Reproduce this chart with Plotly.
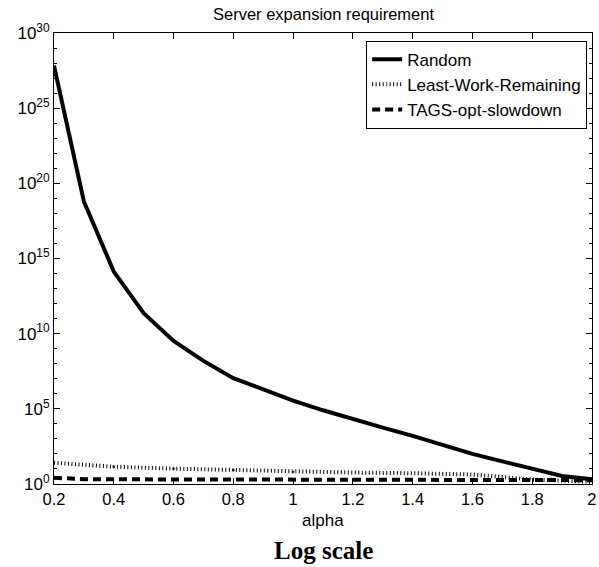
import plotly.graph_objects as go

# ---- data ----
alpha_random = [0.2, 0.3, 0.4, 0.5, 0.6, 0.7, 0.8, 0.9, 1.0, 1.1, 1.2, 1.3, 1.4, 1.5, 1.6, 1.7, 1.8, 1.9, 2.0]
random_vals = [6.8e27, 6.2e18, 1.35e14, 2.3e11, 3.3e9, 1.55e8, 1.1e7, 2.0e6, 3.5e5, 8.0e4, 2.0e4, 5.6e3, 1.6e3, 4.0e2, 1.0e2, 32, 11, 3.4, 2.1]

alpha_lwr = [0.2, 0.4, 0.6, 0.8, 1.0, 1.2, 1.4, 1.6, 1.8, 2.0]
lwr_vals = [26, 14, 10.5, 8.5, 6.3, 5.8, 5.2, 4.3, 2.0, 1.4]

alpha_tags = [0.2, 0.3, 0.4, 0.6, 0.8, 1.0, 1.2, 1.4, 1.6, 1.8, 2.0]
tags_vals = [2.6, 2.1, 2.05, 2.0, 2.0, 2.0, 2.0, 2.0, 1.95, 1.9, 1.8]

series_names = ["Random", "Least-Work-Remaining", "TAGS-opt-slowdown"]
x_ticks = [0.2, 0.4, 0.6, 0.8, 1.0, 1.2, 1.4, 1.6, 1.8, 2.0]
x_ticktext = ["0.2", "0.4", "0.6", "0.8", "1", "1.2", "1.4", "1.6", "1.8", "2"]
y_exponents = [0, 5, 10, 15, 20, 25, 30]
title_text = "Server expansion requirement"
xlabel_text = "alpha"
caption_text = "Log scale"

# ---- figure ----
W, H = 599, 567
L, R, T, B = 54, 2, 33, 83

fig = go.Figure()
fig.add_trace(go.Scatter(x=alpha_random, y=random_vals, mode="lines", name=series_names[0],
                         line=dict(color="black", width=4)))
marker_sizes = [4 if a in (0.4, 0.6, 0.8, 1.0) else 0 for a in alpha_lwr]
fig.add_trace(go.Scatter(x=alpha_lwr, y=lwr_vals, mode="lines+markers", name=series_names[1],
                         line=dict(color="black", width=4, dash="1px,2.5px"),
                         marker=dict(color="black", size=marker_sizes)))
fig.add_trace(go.Scatter(x=alpha_tags, y=tags_vals, mode="lines", name=series_names[2],
                         line=dict(color="black", width=4, dash="8px,5px")))

font_sans = "Liberation Sans, Arial, sans-serif"
fig.update_layout(
    width=W, height=H,
    margin=dict(l=L, r=R, t=T, b=B, pad=0),
    paper_bgcolor="white", plot_bgcolor="white",
    font=dict(family=font_sans, color="black", size=14),
    showlegend=True,
    legend=dict(x=0.991, y=0.983, xanchor="right", yanchor="top",
                bgcolor="white", bordercolor="black", borderwidth=1,
                font=dict(size=17, family=font_sans), tracegroupgap=0,
                itemwidth=30),
    annotations=[
        dict(text=title_text, xref="paper", yref="paper", x=0.5, y=1, yshift=19,
             showarrow=False, font=dict(size=16.5, family=font_sans), xanchor="center", yanchor="middle"),
        dict(text=xlabel_text, xref="paper", yref="paper", x=0.5, y=0, yshift=-36,
             showarrow=False, font=dict(size=17, family=font_sans), xanchor="center", yanchor="middle"),
        dict(text="<b>" + caption_text + "</b>", xref="paper", yref="paper", x=0.5, y=0, yshift=-66,
             showarrow=False, font=dict(size=25, family="Liberation Serif, serif"),
             xanchor="center", yanchor="middle"),
    ],
)

fig.update_xaxes(range=[0.2, 2.0002], tickmode="array", tickvals=x_ticks, ticktext=x_ticktext,
                 ticks="inside", ticklen=6, tickcolor="black", tickwidth=1,
                 showline=True, linecolor="black", linewidth=1, mirror="allticks",
                 showgrid=False, zeroline=False, tickfont=dict(size=16.5),
                 ticklabeloverflow="allow")
fig.update_yaxes(type="log", range=[0, 30],
                 tickmode="array", tickvals=[10.0 ** e for e in y_exponents],
                 ticktext=["10<sup>%d</sup>" % e for e in y_exponents],
                 ticks="inside", ticklen=6, tickcolor="black", tickwidth=1,
                 minor=dict(tickmode="array", tickvals=[10.0 ** e for e in range(0, 31)],
                            ticks="inside", ticklen=3, tickcolor="black"),
                 showline=True, linecolor="black", linewidth=1, mirror="allticks",
                 showgrid=False, zeroline=False, tickfont=dict(size=17),
                 ticklabeloverflow="allow")

fig.write_html("out.html")
